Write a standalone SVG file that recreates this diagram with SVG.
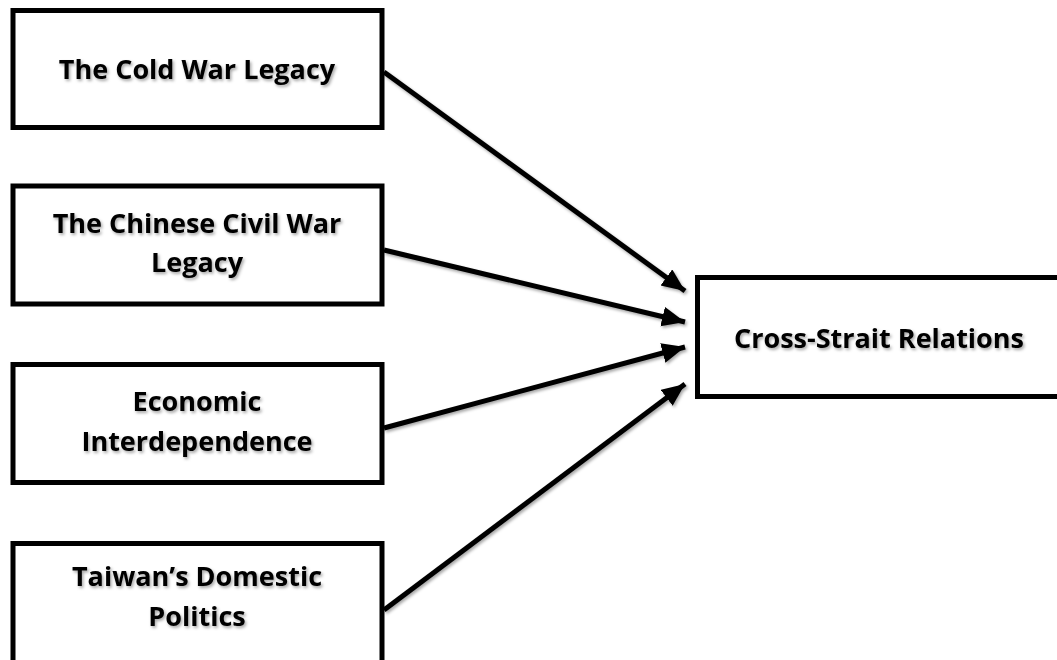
<svg xmlns="http://www.w3.org/2000/svg" width="1057" height="660" viewBox="0 0 1057 660">
<style>
.box{fill:#fff;stroke:#000;stroke-width:5}
.lbl{font-family:"Open Sans","Liberation Sans",sans-serif;font-weight:bold;font-size:27px;fill:#000;text-anchor:middle}
.edge{stroke:#000;stroke-width:5;fill:none}
</style>
<defs>
<filter id="sh" x="-20%" y="-20%" width="140%" height="140%">
<feDropShadow dx="1.5" dy="2" stdDeviation="1.5" flood-color="#000" flood-opacity="0.35"/>
</filter>
<marker id="ah" markerUnits="userSpaceOnUse" markerWidth="26" markerHeight="22" refX="23" refY="10" orient="auto">
<path d="M0,0 L23,10 L0,20 Z" fill="#000"/>
</marker>
</defs>
<rect width="1057" height="660" fill="#fff"/>
<g id="connectors" filter="url(#sh)">
<line class="edge" x1="384" y1="72" x2="685" y2="291" marker-end="url(#ah)"/>
<line class="edge" x1="384" y1="250" x2="685" y2="322" marker-end="url(#ah)"/>
<line class="edge" x1="384" y1="428" x2="685" y2="347" marker-end="url(#ah)"/>
<line class="edge" x1="384" y1="610" x2="685" y2="384" marker-end="url(#ah)"/>
</g>
<g id="n1">
<rect class="box" x="13" y="10.5" width="369" height="117"/>
<text class="lbl" x="197" y="79" filter="url(#sh)">The Cold War Legacy</text>
</g>
<g id="n2">
<rect class="box" x="13" y="186" width="369" height="118"/>
<text class="lbl" x="197" y="233" filter="url(#sh)">The Chinese Civil War</text>
<text class="lbl" x="197" y="272" filter="url(#sh)">Legacy</text>
</g>
<g id="n3">
<rect class="box" x="13" y="364.5" width="369" height="118"/>
<text class="lbl" x="197" y="411" filter="url(#sh)">Economic</text>
<text class="lbl" x="197" y="451" filter="url(#sh)">Interdependence</text>
</g>
<g id="n4">
<rect class="box" x="13" y="543.5" width="369" height="120"/>
<text class="lbl" x="197" y="586" filter="url(#sh)">Taiwan’s Domestic</text>
<text class="lbl" x="197" y="626" filter="url(#sh)">Politics</text>
</g>
<g id="n5">
<rect class="box" x="697.5" y="277.5" width="370" height="119"/>
<text class="lbl" x="879" y="348" filter="url(#sh)">Cross-Strait Relations</text>
</g>
</svg>
